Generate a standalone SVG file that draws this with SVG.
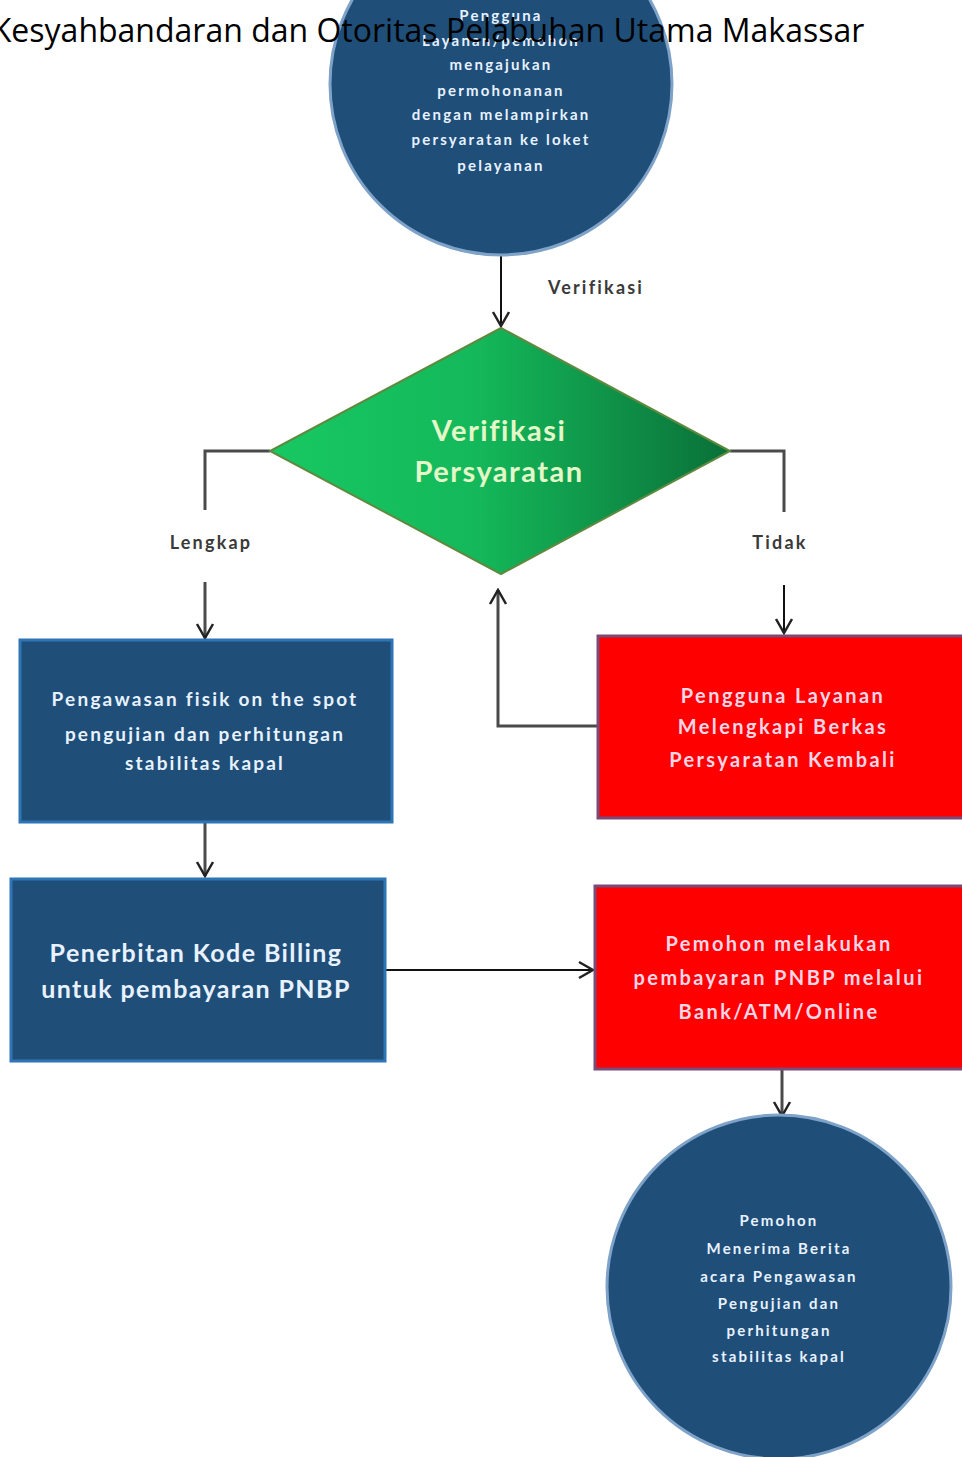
<svg xmlns="http://www.w3.org/2000/svg" width="962" height="1457" viewBox="0 0 962 1457">
<style>
.blue{fill:#1f4e79;stroke:#2e75b6;stroke-width:3}
.circ{fill:#1f4e79;stroke:#7fa3c8;stroke-width:3}
.red{fill:#ff0000;stroke:#7a4a78;stroke-width:3}
.t{font-family:Lato,"Liberation Sans",sans-serif;font-weight:bold;text-anchor:middle}
.ts{font-size:15px;fill:#e8f2ff;letter-spacing:2.2px}
.tb{font-size:19px;fill:#e8f2ff;letter-spacing:2.2px}
.tr{font-size:20px;fill:#ffd6e6;letter-spacing:2.4px}
.lbl{font-size:18px;fill:#3a3a3a;font-family:Lato,"Liberation Sans",sans-serif;font-weight:bold;text-anchor:middle;letter-spacing:2.2px}
.ln{fill:none;stroke:#4a4a4a;stroke-width:3}
.lk{fill:none;stroke:#111;stroke-width:2}
</style>
<defs>
<linearGradient id="g" x1="0" y1="0" x2="1" y2="0">
<stop offset="0" stop-color="#17c862"/><stop offset="0.45" stop-color="#14b85a"/><stop offset="1" stop-color="#0a7038"/>
</linearGradient>
<marker id="a" viewBox="0 0 20 20" refX="18" refY="10" markerWidth="20" markerHeight="20" markerUnits="userSpaceOnUse" orient="auto">
<path d="M4,2 L18,10 L4,18" fill="none" stroke="#222" stroke-width="2.5"/>
</marker>
</defs>
<rect width="962" height="1457" fill="#fff"/>
<g id="connectors">
<path class="lk" d="M501,255 V326" marker-end="url(#a)"/>
<path class="ln" d="M270,451 H205 V510"/>
<path class="ln" d="M205,582 V638" marker-end="url(#a)"/>
<path class="ln" d="M730,451 H784 V512"/>
<path class="lk" d="M784,585 V633" marker-end="url(#a)"/>
<path class="ln" d="M598,726 H498 V590" marker-end="url(#a)"/>
<path class="ln" d="M205,822 V876" marker-end="url(#a)"/>
<path class="lk" d="M385,970 H593" marker-end="url(#a)"/>
<path class="ln" d="M782,1070 V1116" marker-end="url(#a)"/>
<text class="lbl" x="596" y="294">Verifikasi</text>
<text class="lbl" x="211" y="549">Lengkap</text>
<text class="lbl" x="780" y="549">Tidak</text>
</g>
<g id="start">
<circle class="circ" cx="501" cy="84" r="171"/>
<text class="t ts" x="501" y="21">Pengguna</text>
<text class="t ts" x="501" y="46">Layanan/pemohon</text>
<text class="t ts" x="501" y="70">mengajukan</text>
<text class="t ts" x="501" y="96">permohonanan</text>
<text class="t ts" x="501" y="120">dengan melampirkan</text>
<text class="t ts" x="501" y="145">persyaratan ke loket</text>
<text class="t ts" x="501" y="171">pelayanan</text>
</g>
<g id="decision">
<polygon points="501,328 730,451 501,574 270,451" fill="url(#g)" stroke="#5e8a40" stroke-width="2"/>
<text class="t" x="499" y="441" font-size="29" fill="#e4f7c8" font-weight="normal" letter-spacing="1.5">Verifikasi</text>
<text class="t" x="499" y="482" font-size="29" fill="#e4f7c8" font-weight="normal" letter-spacing="1.5">Persyaratan</text>
</g>
<g id="inspect">
<rect class="blue" x="20" y="640" width="372" height="182"/>
<text class="t tb" x="205" y="706">Pengawasan fisik on the spot</text>
<text class="t tb" x="205" y="741">pengujian dan perhitungan</text>
<text class="t tb" x="205" y="770">stabilitas kapal</text>
</g>
<g id="billing">
<rect class="blue" x="11" y="879" width="374" height="182"/>
<text class="t" x="196" y="962" font-size="25" fill="#e8f2ff" letter-spacing="1.4">Penerbitan Kode Billing</text>
<text class="t" x="196" y="998" font-size="25" fill="#e8f2ff" letter-spacing="1.4">untuk pembayaran PNBP</text>
</g>
<g id="complete">
<rect class="red" x="598" y="636" width="370" height="182"/>
<text class="t tr" x="783" y="703">Pengguna Layanan</text>
<text class="t tr" x="783" y="734">Melengkapi Berkas</text>
<text class="t tr" x="783" y="767">Persyaratan Kembali</text>
</g>
<g id="payment">
<rect class="red" x="595" y="886" width="370" height="183"/>
<text class="t tr" x="779" y="951">Pemohon melakukan</text>
<text class="t tr" x="779" y="985">pembayaran PNBP melalui</text>
<text class="t tr" x="779" y="1019">Bank/ATM/Online</text>
</g>
<g id="end">
<circle class="circ" cx="779" cy="1287" r="172"/>
<text class="t ts" x="779" y="1226">Pemohon</text>
<text class="t ts" x="779" y="1254">Menerima Berita</text>
<text class="t ts" x="779" y="1282">acara Pengawasan</text>
<text class="t ts" x="779" y="1309">Pengujian dan</text>
<text class="t ts" x="779" y="1336">perhitungan</text>
<text class="t ts" x="779" y="1362">stabilitas kapal</text>
</g>
<g id="title">
<text x="428" y="42" font-family="'Open Sans',sans-serif" font-size="32" fill="#000" text-anchor="middle">Kesyahbandaran dan Otoritas Pelabuhan Utama Makassar</text>
</g>
</svg>
